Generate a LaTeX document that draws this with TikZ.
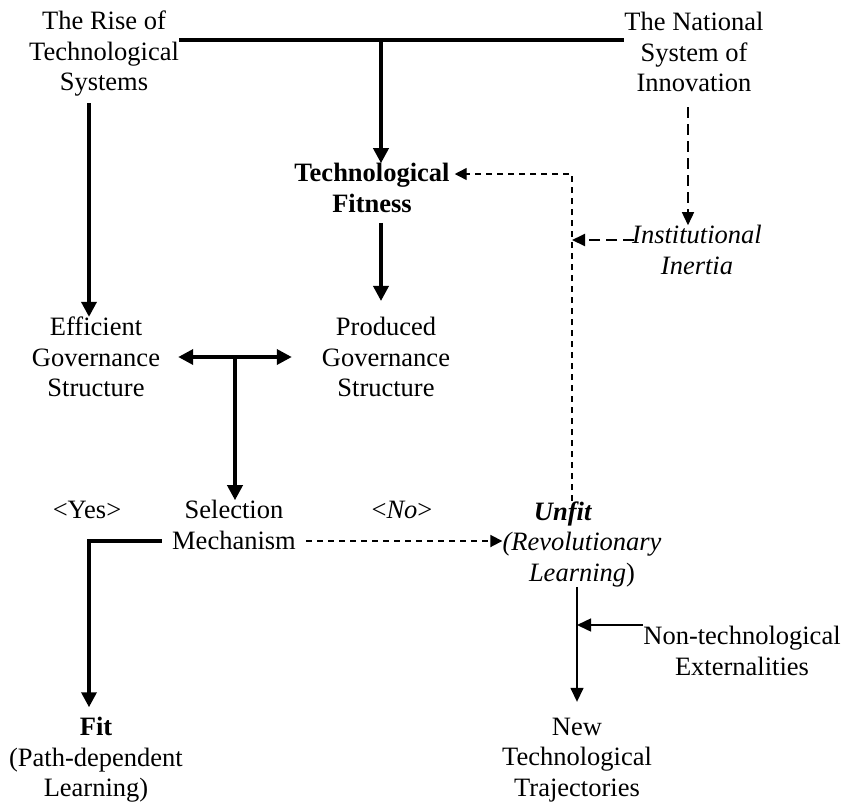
\documentclass[tikz,border=0pt]{standalone}
\usepackage{fontspec}
\setmainfont{Liberation Serif}
\usetikzlibrary{arrows.meta,positioning,calc}

\begin{document}
\begin{tikzpicture}[x=1pt, y=-1pt,
  every node/.style={inner sep=0pt, align=center, font=\fontsize{26.5}{30.5}\selectfont},
  thickline/.style={line width=3.5pt},
  thickarrow/.style={line width=3.5pt, -{Triangle[length=15pt,width=15pt]}},
  thickboth/.style={line width=3.5pt, {Triangle[length=15pt,width=15pt]}-{Triangle[length=15pt,width=15pt]}},
  thinarrow/.style={line width=1.5pt, -{Triangle[length=14pt,width=13pt]}},
  dasharrow/.style={line width=1.4pt, dash pattern=on 6pt off 5pt, -{Triangle[length=12pt,width=12pt]}},
  longdash/.style={line width=1.5pt, dash pattern=on 11pt off 6pt, -{Triangle[length=13pt,width=12pt]}}]
\useasboundingbox (0,0) rectangle (847,804);
% texts
\node (rise) at (104,54) {The Rise of\\Technological\\Systems};
\node (nsi) at (694,52) {The National\\System of\\Innovation};
\node (fitness) at (372,188) {\textbf{Technological}\\\textbf{Fitness}};
\node (inertia) at (697,250) {\textit{Institutional}\\\textit{Inertia}};
\node (efficient) at (96,357) {Efficient\\Governance\\Structure};
\node (produced) at (386,357) {Produced\\Governance\\Structure};
\node (yes) at (87,510) {<Yes>};
\node (select) at (234,525) {Selection\\Mechanism};
\node (no) at (402,510) {<\textit{No}>};
\node (unfit) at (582,544) {\textbf{\textit{Unfit}}\hspace*{38pt}\\\textit{(Revolutionary}\\\textit{Learning})};
\node (nontech) at (742,651) {Non-technological\\Externalities};
\node (fit) at (96,760) {\textbf{Fit}\\(Path-dependent\\Learning)};
\node (newtraj) at (577,760) {New\\Technological\\Trajectories};
% turning points
\coordinate (top) at (381,40);
\coordinate (colA) at (89,103);
\coordinate (ni) at (688,107);
\coordinate (fb) at (572,174);
\coordinate (ia) at (634,240);
\coordinate (split) at (235,358);
\coordinate (yesturn) at (89,541);
\coordinate (nt) at (577,625);
% solid connectors
\draw[thickline] (rise.east |- top) -- (nsi.west |- top);
\draw[thickarrow] (top) -- (fitness.north -| top);
\draw[thickarrow] (colA) -- (colA |- efficient.north);
\draw[thickarrow, shorten <=10pt, shorten >=16pt] (fitness.south -| top) -- (produced.north -| top);
\draw[thickboth] ([xshift=18pt]efficient.east) -- ([xshift=-30pt]produced.west);
\draw[thickarrow] (split) -- (split |- select.north);
\draw[thickarrow, shorten <=10pt, shorten >=10pt] (select.west |- yesturn) -- (yesturn) -- (yesturn |- fit.north);
\draw[thinarrow, shorten >=16pt] (unfit.south -| nt) -- (nt |- newtraj.north);
\draw[thinarrow] (nontech.west |- nt) -- (nt);
% dashed connectors
\draw[longdash] (ni) -- (ni |- inertia.north);
\draw[longdash, line width=2pt] (ia) -- (fb |- ia);
\draw[dasharrow, shorten >=5pt] (unfit.north -| fb) -- (fb) -- (fitness.east |- fb);
\draw[dasharrow, line width=1.8pt, shorten <=10pt] (select.east |- yesturn) -- (unfit.west |- yesturn);
\end{tikzpicture}
\end{document}
